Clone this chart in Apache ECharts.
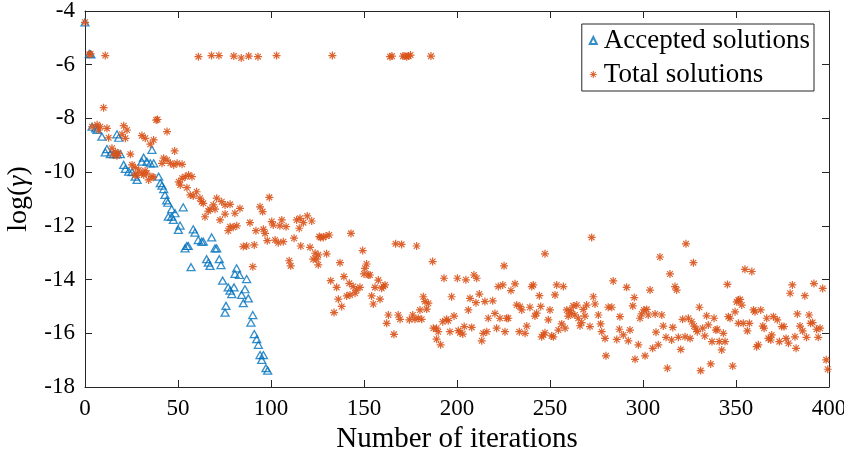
<!DOCTYPE html>
<html>
<head>
<meta charset="utf-8">
<script src="https://cdn.jsdelivr.net/npm/echarts@6/dist/echarts.min.js"></script>
<style>
html,body{margin:0;padding:0;background:#fff;}
#chart{width:844px;height:451px;}
</style>
</head>
<body>
<div id="chart"></div>
<script>
// ---- Data: [iteration, log(gamma)] ----
var acceptedEarly = [[0,-4.42],[2.3,-5.6],[3.2,-5.62],[3.8,-8.31],[5.7,-8.37],[6.5,-8.43],[9.1,-8.68],[17.2,-8.59],[18.1,-8.72],[10.9,-9.26],[11.8,-9.14],[13.6,-9.33],[15.4,-9.33],[17.2,-9.33],[19,-9.33],[20.8,-9.73],[21.7,-9.88],[23.5,-9.98],[25.3,-10.0],[27,-10.17],[28,-10.29],[30.6,-9.61],[31.5,-9.46],[33.3,-9.61],[35.1,-9.67],[36.9,-9.67],[36,-9.17]];
var acceptedLate = [[39.6,-10.17],[40.5,-10.41],[41.4,-10.5],[42.3,-10.63],[43,-10.85],[43.9,-11.05],[44.5,-11.14],[52.8,-11.31],[46.6,-11.38],[48.4,-11.53],[44.8,-11.66],[46.6,-11.66],[47.5,-11.78],[51.1,-11.99],[50.2,-12.15],[58.2,-12.13],[59.1,-12.25],[54.7,-12.75],[53.8,-12.84],[55.5,-12.75],[60.9,-12.53],[62.7,-12.59],[63.6,-12.59],[68.1,-12.43],[69.9,-12.84],[70.8,-12.84],[65.4,-13.24],[66.3,-13.37],[67.2,-13.49],[72.2,-13.24],[73.1,-13.46],[57,-13.54],[81.5,-13.58],[80.6,-13.79],[83,-13.83],[86.9,-13.98],[74,-14.04],[77,-14.29],[78,-14.41],[78.9,-14.54],[80.1,-14.29],[86,-14.36],[84.2,-14.57],[87.8,-14.7],[85.1,-14.88],[75.8,-14.98],[75.3,-15.23],[90.2,-15.32],[89.2,-15.6],[91,-16.03],[92.3,-16.22],[93.2,-16.43],[94.1,-16.81],[95.9,-16.81],[95,-16.99],[97.3,-17.3],[98.2,-17.39]];

var totalTopRow = [[0,-4.42],[2.3,-5.62],[3,-5.6],[10.9,-5.66],[61,-5.7],[68,-5.66],[72,-5.66],[80,-5.68],[84,-5.75],[88,-5.68],[93,-5.7],[103,-5.66],[133,-5.66],[164,-5.7],[165,-5.68],[171,-5.68],[172,-5.68],[173,-5.7],[174,-5.68],[175,-5.64],[186,-5.68]];
var totalEarly = [[10,-7.6],[38.3,-8.06],[39,-8.04],[3.8,-8.31],[6.5,-8.24],[8.2,-8.31],[7.4,-8.43],[11.8,-8.37],[12.7,-8.72],[20.8,-8.27],[22.6,-8.43],[44.1,-8.49],[19.9,-8.59],[21.7,-8.74],[30.6,-8.64],[32.4,-8.74],[36.9,-8.8],[35.1,-8.96],[14.5,-9.11],[16.3,-9.24],[18.1,-9.3],[15.4,-9.36],[17.2,-9.39],[24.4,-9.33],[48.2,-9.21],[42.3,-9.48],[44.1,-9.55],[45.9,-9.67],[47.7,-9.73],[41.4,-9.67],[49.5,-9.67],[52.2,-9.71],[25.3,-9.73],[27,-9.83],[28.9,-9.92],[30.6,-10.04],[28,-10.11],[31.6,-10.11],[36,-10.17],[34.2,-10.29],[32.3,-9.95],[33.2,-10.04],[36.7,-10.19],[26.9,-10.11],[50.4,-10.36],[52.2,-10.23],[53.9,-10.17],[55.7,-10.11],[57.5,-10.17],[51.2,-10.48],[54.8,-10.58],[56.6,-10.85],[60,-10.73],[58.2,-10.89],[61.8,-10.97],[62.7,-11.1],[63.6,-11.16],[70.8,-10.97],[69,-11.22],[73.5,-11.1],[75.3,-11.22],[78,-11.2],[67.2,-11.38],[69.9,-11.38],[66.3,-11.45],[83.3,-11.35],[80.6,-11.53],[75.3,-11.56],[64.5,-11.66],[72.6,-11.78],[78,-12.03],[81.6,-12.0],[79.7,-12.05],[77,-12.18]];
var totalMid = [[99.1,-10.94],[94.1,-11.29],[95.5,-11.47],[88.7,-11.88],[91.9,-12.18],[95.9,-12.13],[96.8,-12.28],[100.4,-11.84],[101.2,-11.97],[105.8,-11.78],[108.1,-12.03],[104.8,-12.0],[85.1,-12.77],[86.9,-12.75],[91,-12.71],[98,-12.55],[102.2,-12.53],[103.9,-12.63],[106.6,-12.59],[90.2,-13.52],[113.8,-11.78],[115.6,-11.72],[117.4,-11.88],[119.5,-11.63],[121.9,-11.82],[115.2,-12.09],[112.4,-12.46],[116,-12.75],[121,-12.8],[109.8,-13.3],[110.6,-13.49],[123.7,-13.02],[124.6,-13.24],[126,-12.4],[122.7,-13.24],[125.4,-13.08],[129.9,-13.04],[125.4,-13.45],[126.7,-12.43],[128.1,-12.43],[129.6,-12.38],[131.3,-12.34],[143,-12.28],[137.1,-13.37],[132.1,-14.04],[135.3,-14.29],[136.2,-14.73],[138,-15.0],[133.9,-15.23],[139.2,-13.89],[142.1,-14.14],[144.2,-14.26],[146,-14.39],[147.8,-14.29],[140.7,-14.61],[142.5,-14.57],[145.2,-14.51],[149.3,-12.92],[150.5,-13.58],[151.4,-13.42],[152.3,-13.83],[150,-13.79],[153.2,-13.83],[155,-14.91],[154.1,-14.61],[155.9,-14.29],[157.7,-14.02],[159.5,-14.32],[161.3,-14.2],[160.4,-14.26],[158.6,-14.73],[163.1,-15.32],[162.2,-15.63],[166.1,-16.04],[167,-12.67],[170.2,-12.69],[178.3,-12.75],[168.4,-15.32],[169.4,-15.48],[174.4,-15.5],[176.2,-15.32],[177.4,-15.48],[179.2,-15.44],[181,-15.48],[180.1,-15.13],[181.9,-14.64],[182.8,-14.82],[184.6,-14.88],[183.7,-15.1],[186.9,-13.33],[187.3,-15.81],[189,-15.81],[189.9,-15.94],[189,-16.22],[191.2,-16.43],[193,-13.95],[197.1,-14.64],[200.2,-13.95],[204.8,-14.01],[192.3,-15.57],[194.4,-15.48],[195.3,-15.53],[198.4,-15.36],[196.2,-15.94]];
var totalLateA = [[200.7,-15.9],[201.6,-15.98],[203.1,-16.03],[203.9,-15.75],[206.1,-15.13],[207.9,-15.78],[207,-14.7],[209.1,-13.83],[210.6,-13.95],[212,-14.54],[210.2,-14.86],[213.3,-16.28],[214.1,-16],[216,-15.94],[216.8,-15.44],[215,-14.82],[219.2,-14.79],[220.4,-15.26],[221.3,-15.81],[223.1,-15.44],[225.8,-15.94],[226.7,-15.44],[227.6,-15.44],[222.2,-14.26],[224.6,-14.2],[229,-14.41],[231.2,-14.16],[225.3,-13.49],[232.1,-14.95],[233.9,-15.0],[234.8,-15.13],[239.2,-15.03],[242.8,-15.25],[245,-15.0],[244.3,-14.6],[240.2,-14.26],[241,-14.2],[233.5,-15.94],[236.6,-16],[237.5,-15.73],[241.9,-15.36],[246.4,-16.06],[247.3,-15.98],[249.1,-15.5],[247.3,-13.04],[272.4,-12.43],[250,-15.13],[253.6,-14.2],[257.2,-14.26],[252.7,-14.57],[245.5,-16.13],[250.9,-16.1],[251.8,-16.13],[254.5,-15.88],[256.3,-15.65],[258.1,-15.81],[259,-15.13],[260.8,-15.15],[262.5,-14.98],[264.4,-14.95],[261.6,-15.26],[263.4,-15.32],[259.8,-15.36],[267.9,-15.11],[269.7,-14.95],[273.3,-14.64],[274.2,-14.91],[268.8,-15.36],[265.2,-15.44],[267,-15.6],[266.1,-15.72],[271.5,-15.75],[276,-15.32],[277.2,-15.65],[277.8,-15.94],[279.6,-16.19],[280.1,-16.84],[285.9,-16.23],[287.6,-15.38],[287.3,-15.85],[289.4,-16.06],[292.1,-16.28],[293,-15.88],[281.3,-15.03],[283.2,-15.03],[284,-14.05],[291.2,-14.29],[294.5,-14.98],[295.3,-14.67],[295.7,-16.97],[301.1,-16.84],[297.5,-16.43],[298.4,-15.44],[299.3,-15.28]];
var totalLateB = [[300.5,-15.13],[302,-15.11],[302.8,-15.32],[303.8,-14.39],[305.2,-16.56],[308.2,-16.43],[306.5,-15.28],[310.1,-15.32],[307,-15.96],[309.1,-13.16],[310.9,-15.73],[312.4,-16.15],[314.5,-13.79],[313.1,-17.3],[316,-15.78],[315.4,-16.25],[317.2,-14.26],[318.1,-14.39],[319,-16.15],[320.3,-16.6],[321.3,-15.48],[322.6,-16.13],[323.1,-12.67],[324.4,-15.44],[325.3,-16.19],[326.2,-15.57],[327.1,-13.37],[327.5,-15.73],[328.5,-15.85],[329.2,-15.94],[330.3,-15.03],[331,-17.39],[332.1,-15.81],[333.2,-16.1],[334.2,-15.35],[335.1,-15.69],[336.4,-17.14],[337.1,-16.31],[338.2,-15.44],[339.2,-15.88],[339.9,-15.85],[341,-16.31],[342.3,-16.62],[343.2,-16.0],[344.1,-16.31],[345.4,-14.18],[345.9,-15.38],[346.8,-15.44],[348.2,-17.22],[349.5,-15.2],[350.4,-14.83],[351.3,-14.76],[352.2,-14.74],[353.1,-14.95],[351.3,-15.63],[353.9,-15.63],[354.8,-13.62],[356.1,-15.91],[357.2,-15.63],[358.5,-13.7],[359.4,-15.13],[360.2,-15.2],[361.1,-16.5],[362,-16.43],[363.3,-15.13],[364.4,-15.73],[365.1,-15.81],[366.5,-15.44],[367.4,-16.19],[368.7,-16.25],[369.2,-16.06],[370.1,-15.38],[372.2,-15.5],[373.3,-16.31],[374.6,-15.75],[375.8,-15.75],[376.9,-16.19],[378.2,-16.37],[379.1,-14.51],[380.3,-14.2],[381.7,-16.13],[382.3,-16.56],[383,-15.28],[384.4,-15.73],[385.8,-15.91],[387,-14.6],[387.9,-16.15],[389.3,-15.32],[390.1,-15.63],[391.2,-15.6],[391.9,-14.15],[393.3,-15.85],[394.2,-16.15],[395.2,-15.81],[396.6,-14.33],[398.5,-16.99],[399.3,-17.34]];

var xTicks = {min: 0, max: 400, step: 50};
var yTicks = {min: -18, max: -4, step: 2};

var accepted = acceptedEarly.concat(acceptedLate);
var total = totalTopRow.concat(totalEarly, totalMid, totalLateA, totalLateB);

var FONT = 'Liberation Serif';
var AX = '#262626';
var asterisk = 'path://M-0.9,-6 L0.9,-6 L0.9,6 L-0.9,6 Z M-6,-0.9 L6,-0.9 L6,0.9 L-6,0.9 Z M-3.7,-4.9 L4.9,3.7 L3.7,4.9 L-4.9,-3.7 Z M4.9,-3.7 L-3.7,4.9 L-4.9,3.7 L3.7,-4.9 Z';

function axisCommon(showLabel) {
  return {
    axisLine: {show: true, onZero: false, lineStyle: {color: AX, width: 1}},
    axisTick: {show: true, inside: true, length: 7, lineStyle: {color: AX, width: 1}},
    axisLabel: {show: showLabel, fontFamily: FONT, fontSize: 23, color: '#000', margin: 10},
    splitLine: {show: false}
  };
}

var chart = echarts.init(document.getElementById('chart'), null, {renderer: 'canvas'});
var option = {
  animation: false,
  backgroundColor: '#fff',
  grid: {left: 85, right: 15, top: 11, bottom: 64, outerBoundsMode: 'none', containLabel: false},
  legend: {
    orient: 'vertical',
    right: 30, top: 24,
    backgroundColor: '#fff',
    borderColor: AX, borderWidth: 1,
    padding: [3, 4, 3, 7],
    itemGap: 7,
    itemWidth: 7, itemHeight: 7,
    textStyle: {fontFamily: FONT, fontSize: 27, color: '#000', padding: [0, 0, 0, 2]},
    data: ['Accepted solutions', 'Total solutions']
  },
  xAxis: [
    Object.assign({type: 'value', min: xTicks.min, max: xTicks.max, interval: xTicks.step, position: 'bottom',
      name: 'Number of iterations', nameLocation: 'middle', nameGap: 36,
      nameTextStyle: {fontFamily: FONT, fontSize: 29, color: '#000'}}, axisCommon(true)),
    Object.assign({type: 'value', min: xTicks.min, max: xTicks.max, interval: xTicks.step, position: 'top'}, axisCommon(false))
  ],
  yAxis: [
    Object.assign({type: 'value', min: yTicks.min, max: yTicks.max, interval: yTicks.step, position: 'left',
      name: 'log({g|γ})', nameLocation: 'middle', nameGap: 52, nameRotate: 90,
      nameTextStyle: {fontFamily: FONT, fontSize: 28, color: '#000',
        rich: {g: {fontFamily: FONT, fontSize: 28, fontStyle: 'italic', color: '#000'}}}}, axisCommon(true)),
    Object.assign({type: 'value', min: yTicks.min, max: yTicks.max, interval: yTicks.step, position: 'right'}, axisCommon(false))
  ],
  series: [
    {
      name: 'Accepted solutions', type: 'scatter', xAxisIndex: 0, yAxisIndex: 0,
      symbol: 'triangle', symbolSize: [8, 7],
      itemStyle: {color: 'rgba(255,255,255,0)', borderColor: '#0072BD', borderWidth: 1.3},
      data: accepted
    },
    {
      name: 'Total solutions', type: 'scatter', xAxisIndex: 0, yAxisIndex: 0,
      symbol: asterisk, symbolSize: 8,
      itemStyle: {color: '#D95319', opacity: 0.9},
      data: total
    }
  ]
};
chart.setOption(option);
</script>
</body>
</html>
